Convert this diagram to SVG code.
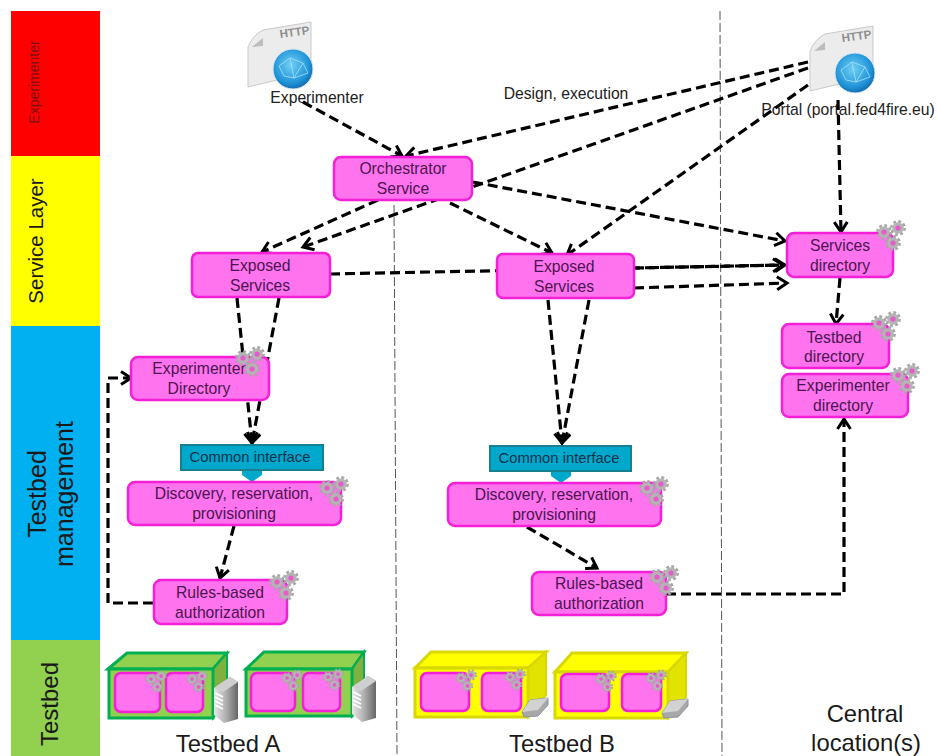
<svg xmlns="http://www.w3.org/2000/svg" width="937" height="756" viewBox="0 0 937 756">
<style>
text{font-family:"Liberation Sans",Arial,sans-serif}
.box{fill:#ff73ee;stroke:#f41fd6;stroke-width:2.5}
.t{font-size:15.7px;fill:#4a1550;text-anchor:middle}
.ct{font-size:14.8px;fill:#10304a;text-anchor:middle}
.lab{font-size:15.7px;fill:#222;text-anchor:middle}
.big{font-size:23.8px;fill:#1a1a1a;text-anchor:middle}
.band{fill:#1a1a1a;text-anchor:middle}
.c{fill:none;stroke:#000;stroke-width:3.2;stroke-dasharray:10 5}
.sep{fill:none;stroke:#555;stroke-width:1;stroke-dasharray:9 3}
.ci{fill:#00a9cc;stroke:#17808f;stroke-width:2}
.inner{fill:#ff73ee;stroke:#f41fd6;stroke-width:2.5}
</style>
<defs>
<marker id="a" markerWidth="18" markerHeight="18" refX="12" refY="8" orient="auto" markerUnits="userSpaceOnUse"><path d="M2 1.5L12 8L2 14.5" fill="none" stroke="#000" stroke-width="3"/></marker>
<radialGradient id="gl" cx="0.45" cy="0.4" r="0.65"><stop offset="0" stop-color="#6fd0f5"/><stop offset="0.7" stop-color="#1f93d8"/><stop offset="1" stop-color="#0f5f9e"/></radialGradient>
<linearGradient id="srv" x1="0" x2="1" y1="0" y2="0"><stop offset="0" stop-color="#e8e8e8"/><stop offset="0.5" stop-color="#b0b0b0"/><stop offset="1" stop-color="#666"/></linearGradient>
<g id="gear"><circle r="6.6" fill="none" stroke="#a6a6a6" stroke-width="2.6" stroke-dasharray="2.8 2.4"/><circle r="5.8" fill="#b4b4b4"/><circle r="2.6" fill="#e65bc9"/></g>
<g id="gears"><use href="#gear"/><use href="#gear" x="14" y="-4"/><use href="#gear" x="9" y="11"/></g>
<g id="http">
<path d="M248 87V47Q253 35 263 30L311 22V72L248 87Z" fill="#ececec" stroke="#c9c9c9"/>
<path d="M252 47L263 38V46Z" fill="#bdbdbd"/>
<text x="295" y="36" font-size="11.5" font-weight="bold" fill="#8d8d8d" text-anchor="middle" transform="rotate(-8 295 36)">HTTP</text>
<circle cx="293" cy="69" r="20" fill="url(#gl)" stroke="#d5e8f0" stroke-width="1"/>
<path d="M279 66L290 58L303 63L308 73L294 78L284 76ZM290 58L294 78M303 63L294 78" fill="none" stroke="#a8e2f7" stroke-width="0.8"/>
</g>
<g id="server">
<path d="M0 11L16 0L24 5V42L10 46L0 38Z" fill="url(#srv)"/>
<path d="M0 11L16 0L24 5L9 15Z" fill="#cfcfcf"/>
<path d="M1 16L9 20M1 20L9 24M1 24L9 28M1 28L9 32" stroke="#fff" stroke-width="1.6"/>
</g>
<g id="disk">
<path d="M0 14L8 2L26 0L26 7L16 18L2 19Z" fill="#a8a8a8" stroke="#8b93a8"/>
<path d="M0 14L8 2L26 0L16 12Z" fill="#d2d2d2"/>
</g>
</defs>

<rect width="937" height="756" fill="#fff"/>
<g id="bands">
<rect x="11" y="11" width="89" height="145" fill="#ff0000"/>
<rect x="11" y="156" width="89" height="170" fill="#ffff00"/>
<rect x="11" y="326" width="89" height="314" fill="#00b0f0"/>
<rect x="11" y="640" width="89" height="116" fill="#92d050"/>
<text class="band" font-size="14" style="fill:#7a1010" transform="translate(39 82) rotate(-90)">Experimenter</text>
<text class="band" font-size="20.5" transform="translate(43 241) rotate(-90)">Service Layer</text>
<text class="band" font-size="25" transform="translate(46 494) rotate(-90)">Testbed</text>
<text class="band" font-size="25" transform="translate(73 494) rotate(-90)">management</text>
<text class="band" font-size="24" transform="translate(58 704) rotate(-90)">Testbed</text>
</g>
<g id="separators">
<path class="sep" d="M394 205L397 756"/>
<path class="sep" d="M720 11L722 756"/>
</g>
<g id="experimenter-icon"><use href="#http"/><text class="lab" x="317" y="103">Experimenter</text></g>
<g id="portal-icon"><use href="#http" transform="translate(562 4)"/><text class="lab" x="848" y="115">Portal (portal.fed4fire.eu)</text></g>
<text id="design-label" class="lab" x="566" y="99">Design, execution</text>

<g id="connectors">
<path class="c" marker-end="url(#a)" d="M303 102L402 156"/>
<path class="c" marker-end="url(#a)" d="M808 62L406 156"/>
<path class="c" marker-end="url(#a)" d="M808 68L303 247"/>
<path class="c" marker-end="url(#a)" d="M808 85L567 255"/>
<path class="c" marker-end="url(#a)" d="M378 200L262 252"/>
<path class="c" marker-end="url(#a)" d="M450 203L552 253"/>
<path class="c" marker-end="url(#a)" d="M473 182L785 241"/>
<path class="c" marker-end="url(#a)" d="M838 100L841 232"/>
<path class="c" marker-end="url(#a)" d="M330 274L785 265"/>
<path class="c" marker-end="url(#a)" d="M634 268L783 265"/>
<path class="c" marker-end="url(#a)" d="M634 288L787 283"/>
<path class="c" marker-end="url(#a)" d="M237 298L252 443"/>
<path class="c" marker-end="url(#a)" d="M279 298L252 443"/>
<path class="c" marker-end="url(#a)" d="M548 300L562 443"/>
<path class="c" marker-end="url(#a)" d="M589 300L562 443"/>
<path class="c" marker-end="url(#a)" d="M840 278L836 324"/>
<path class="c" marker-end="url(#a)" d="M234 526L220 578"/>
<path class="c" marker-end="url(#a)" d="M527 527L597 568"/>
<path class="c" marker-end="url(#a)" d="M153 603H108V378H131"/>
<path class="c" marker-end="url(#a)" d="M666 594H844V419"/>
</g>

<g id="orchestrator"><rect class="box" x="334" y="157" width="138" height="43" rx="7"/><text class="t" x="403" y="174">Orchestrator</text><text class="t" x="403" y="194">Service</text></g>
<g id="exposed-a"><rect class="box" x="192" y="253" width="138" height="44" rx="6"/><text class="t" x="260" y="271">Exposed</text><text class="t" x="260" y="291">Services</text></g>
<g id="exposed-b"><rect class="box" x="497" y="254" width="137" height="44" rx="6"/><text class="t" x="564" y="272">Exposed</text><text class="t" x="564" y="292">Services</text></g>
<g id="services-dir"><rect class="box" x="787" y="233" width="106" height="44" rx="7"/><text class="t" x="840" y="251">Services</text><text class="t" x="840" y="271">directory</text><use href="#gears" x="884" y="232"/></g>
<g id="testbed-dir"><rect class="box" x="782" y="324" width="107" height="44" rx="7"/><text class="t" x="834" y="343">Testbed</text><text class="t" x="834" y="362">directory</text><use href="#gears" x="879" y="323"/></g>
<g id="experimenter-dir"><rect class="box" x="782" y="374" width="126" height="43" rx="7"/><text class="t" x="843" y="391">Experimenter</text><text class="t" x="843" y="411">directory</text><use href="#gears" x="898" y="375"/></g>
<g id="experimenter-directory-a"><rect class="box" x="131" y="357" width="138" height="43" rx="7"/><text class="t" x="199" y="374">Experimenter</text><text class="t" x="199" y="394">Directory</text><use href="#gears" x="243" y="358"/></g>

<g id="common-a"><path class="ci" d="M181 445H323V470H181Z"/><path d="M242 471H262V475L252 482L242 475Z" fill="#00a9cc"/><text class="ct" x="250" y="462">Common interface</text></g>
<g id="discovery-a"><rect class="box" x="128" y="482" width="213" height="43" rx="7"/><text class="t" x="234" y="499">Discovery, reservation,</text><text class="t" x="234" y="519">provisioning</text><use href="#gears" x="327" y="488"/></g>
<g id="rules-a"><rect class="box" x="154" y="580" width="133" height="44" rx="7"/><text class="t" x="220" y="598">Rules-based</text><text class="t" x="220" y="618">authorization</text><use href="#gears" x="277" y="582"/></g>

<g id="common-b"><path class="ci" d="M490 446H631V471H490Z"/><path d="M551 472H571V476L561 483L551 476Z" fill="#00a9cc"/><text class="ct" x="559" y="463">Common interface</text></g>
<g id="discovery-b"><rect class="box" x="448" y="483" width="213" height="43" rx="7"/><text class="t" x="554" y="500">Discovery, reservation,</text><text class="t" x="554" y="520">provisioning</text><use href="#gears" x="647" y="488"/></g>
<g id="rules-b"><rect class="box" x="532" y="572" width="134" height="43" rx="7"/><text class="t" x="599" y="589">Rules-based</text><text class="t" x="599" y="609">authorization</text><use href="#gears" x="657" y="577"/></g>

<g id="testbed-a1">
<path d="M108 669L127 653H227L213 669Z" fill="#92d050" stroke="#00b050" stroke-width="3"/>
<path d="M213 669L227 653V700L213 718Z" fill="#7fb040" stroke="#00b050" stroke-width="2"/>
<rect x="109" y="669" width="104" height="49" fill="#92d050" stroke="#00b050" stroke-width="3"/>
<rect class="inner" x="115" y="673" width="45" height="39" rx="6"/><rect class="inner" x="166" y="673" width="37" height="39" rx="6"/>
<use href="#gears" transform="translate(151 679) scale(0.72)"/><use href="#gears" transform="translate(192 679) scale(0.72)"/>
<use href="#server" x="214" y="677"/>
</g>
<g id="testbed-a2">
<path d="M246 669L264 652H364L352 669Z" fill="#92d050" stroke="#00b050" stroke-width="3"/>
<path d="M352 669L364 652V698L352 716Z" fill="#7fb040" stroke="#00b050" stroke-width="2"/>
<rect x="246" y="669" width="106" height="47" fill="#92d050" stroke="#00b050" stroke-width="3"/>
<rect class="inner" x="251" y="673" width="44" height="38" rx="6"/><rect class="inner" x="303" y="673" width="37" height="38" rx="6"/>
<use href="#gears" transform="translate(287 678) scale(0.72)"/><use href="#gears" transform="translate(328 677) scale(0.72)"/>
<use href="#server" x="352" y="676"/>
</g>
<g id="testbed-b1">
<path d="M415 668L431 652H546L528 668Z" fill="#ffff00" stroke="#d8d800" stroke-width="3"/>
<path d="M528 668L546 652V695L528 717Z" fill="#e3e300" stroke="#d8d800" stroke-width="2"/>
<rect x="415" y="668" width="113" height="49" fill="#ffff00" stroke="#d8d800" stroke-width="3"/>
<rect class="inner" x="421" y="673" width="48" height="38" rx="6"/><rect class="inner" x="482" y="673" width="39" height="38" rx="6"/>
<use href="#gears" transform="translate(461 678) scale(0.72)"/><use href="#gears" transform="translate(510 677) scale(0.72)"/>
<use href="#disk" x="522" y="698"/>
</g>
<g id="testbed-b2">
<path d="M555 672L572 653H686L668 672Z" fill="#ffff00" stroke="#d8d800" stroke-width="3"/>
<path d="M668 672L686 653V697L668 718Z" fill="#e3e300" stroke="#d8d800" stroke-width="2"/>
<rect x="555" y="672" width="113" height="46" fill="#ffff00" stroke="#d8d800" stroke-width="3"/>
<rect class="inner" x="561" y="674" width="48" height="37" rx="6"/><rect class="inner" x="622" y="674" width="39" height="37" rx="6"/>
<use href="#gears" transform="translate(601 679) scale(0.72)"/><use href="#gears" transform="translate(651 678) scale(0.72)"/>
<use href="#disk" x="662" y="699"/>
</g>
<text class="big" x="228" y="752">Testbed A</text>
<text class="big" x="562" y="752">Testbed B</text>
<text class="big" x="865" y="722">Central</text>
<text class="big" x="866" y="751">location(s)</text>
</svg>
